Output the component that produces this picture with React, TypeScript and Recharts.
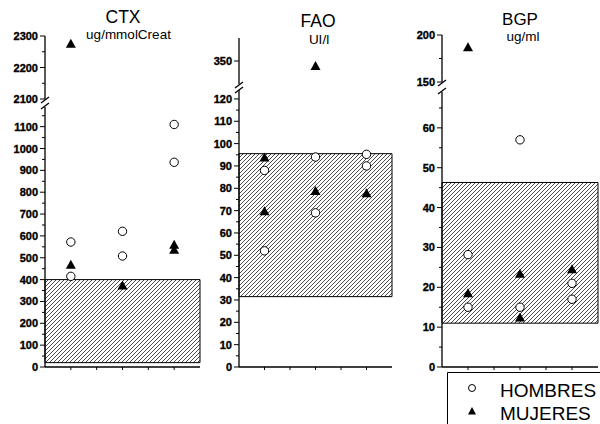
import React from 'react'
import { ScatterChart, Scatter, XAxis, YAxis, ReferenceArea } from 'recharts'

// ─── Datos: [grupo, valor] por sujeto ───
const ctxHombres: [number, number][] = [[1, 572], [1, 415], [2, 621], [2, 508], [3, 937], [3, 1110]]
const ctxMujeres: [number, number][] = [[1, 466], [1, 2274], [2, 371], [3, 557], [3, 534]]
const faoHombres: [number, number][] = [[1, 88], [1, 52], [2, 94], [2, 69], [3, 95.2], [3, 90]]
const faoMujeres: [number, number][] = [[1, 93.6], [1, 69.5], [2, 78.6], [2, 344], [3, 77.6]]
const bgpHombres: [number, number][] = [[1, 28.2], [1, 15], [2, 57], [2, 15], [3, 21], [3, 17]]
const bgpMujeres: [number, number][] = [[1, 18.4], [1, 186.5], [2, 23.3], [2, 12.3], [3, 24.4]]

// rango normal (zona rayada)
const ctxRango = [20, 400]
const faoRango = [31.5, 95.5]
const bgpRango = [11, 46.3]

// ticks con etiqueta y ticks menores de cada tramo
const ctxEtiqSup = [2100, 2200, 2300]
const ctxMenorSup = [2150, 2250]
const ctxEtiqInf = [0, 100, 200, 300, 400, 500, 600, 700, 800, 900, 1000, 1100]
const ctxMenorInf = [50, 150, 250, 350, 450, 550, 650, 750, 850, 950, 1050, 1150]
const faoEtiqSup = [350]
const faoMenorSup: number[] = []
const faoEtiqInf = [0, 10, 20, 30, 40, 50, 60, 70, 80, 90, 100, 110, 120]
const faoMenorInf = [5, 15, 25, 35, 45, 55, 65, 75, 85, 95, 105, 115]
const bgpEtiqSup = [150, 200]
const bgpMenorSup = [175]
const bgpEtiqInf = [0, 10, 20, 30, 40, 50, 60]
const bgpMenorInf = [5, 15, 25, 35, 45, 55, 65]

const FONT = 'Liberation Sans, Arial, sans-serif'
const PAD_L = 44
const PAD_T = 8
const PAD_R = 8
const PAD_B = 8
const X_AXIS_H = 8
const X_TICKS = [1, 1.5, 2, 2.5, 3]

const Circulo = (p: any) => (
  <circle cx={p.cx} cy={p.cy} r={4.2} fill="#fff" stroke="#000" strokeWidth={1} />
)
const Triangulo = (p: any) => (
  <path d={`M${p.cx},${p.cy - 5.5} L${p.cx + 5},${p.cy + 3.5} L${p.cx - 5},${p.cy + 3.5} Z`} fill="#000" />
)

type SegmentProps = {
  id: string
  left: number
  top: number
  width: number
  height: number
  domain: [number, number]
  etiquetas: number[]
  menores: number[]
  hombres: [number, number][]
  mujeres: [number, number][]
  rango?: number[]
  xAxis?: boolean
}

// un tramo del eje Y partido (superior o inferior)
function Segment({ id, left, top, width, height, domain, etiquetas, menores, hombres, mujeres, rango, xAxis }: SegmentProps) {
  const W = PAD_L + width + PAD_R
  const H = PAD_T + height + (xAxis ? X_AXIS_H : PAD_B)
  const inRange = (pts: [number, number][]) =>
    pts.filter(([, v]) => v >= domain[0] && v <= domain[1]).map(([x, y]) => ({ x, y }))
  const ticks = [...etiquetas, ...menores].sort((a, b) => a - b)
  const axisY = PAD_T + height

  const yTick = (props: any) => {
    const { y, payload } = props
    const major = etiquetas.includes(payload.value)
    return (
      <g>
        <line x1={PAD_L - (major ? 5 : 3)} x2={PAD_L} y1={y} y2={y} stroke="#000" strokeWidth={1} />
        {major && (
          <text
            x={PAD_L - 7}
            y={y}
            dy={4}
            textAnchor="end"
            fill="#000"
            stroke="#000"
            strokeWidth={0.35}
            fontFamily={FONT}
            fontSize={11}
            fontWeight="bold"
            style={{ fontWeight: 'bold' }}
          >
            {payload.value}
          </text>
        )}
      </g>
    )
  }
  const xTick = (props: any) => (
    <line x1={props.x} x2={props.x} y1={axisY} y2={axisY + 3} stroke="#000" strokeWidth={1} />
  )

  return (
    <div style={{ position: 'absolute', left: left - PAD_L, top: top - PAD_T, width: W, height: H }}>
      <ScatterChart width={W} height={H} margin={{ top: PAD_T, right: PAD_R, left: 0, bottom: xAxis ? 0 : PAD_B }}>
        <defs>
          <pattern id={id} patternUnits="userSpaceOnUse" width={4} height={4}>
            <path d="M-1,1 l2,-2 M0,4 l4,-4 M3,5 l2,-2" stroke="#000" strokeWidth={0.7} />
          </pattern>
        </defs>
        <XAxis
          type="number"
          dataKey="x"
          domain={[0.5, 3.5]}
          ticks={X_TICKS}
          hide={!xAxis}
          height={X_AXIS_H}
          axisLine={{ stroke: '#000', strokeWidth: 1.3 }}
          tickLine={false}
          tick={xTick}
        />
        <YAxis
          type="number"
          dataKey="y"
          domain={domain}
          ticks={ticks}
          width={PAD_L}
          interval={0}
          axisLine={{ stroke: '#000', strokeWidth: 1.3 }}
          tickLine={false}
          tick={yTick}
        />
        {rango && (
          <ReferenceArea
            x1={0.5}
            x2={3.5}
            y1={rango[0]}
            y2={rango[1]}
            fill={`url(#${id})`}
            fillOpacity={1}
            stroke="#000"
            strokeWidth={1}
          />
        )}
        <Scatter data={inRange(mujeres)} shape={Triangulo} isAnimationActive={false} />
        <Scatter data={inRange(hombres)} shape={Circulo} isAnimationActive={false} />
      </ScatterChart>
    </div>
  )
}

// marcas "//" del eje partido
function Corte({ x, y }: { x: number; y: number }) {
  return <line x1={x - 4} y1={y + 3} x2={x + 4} y2={y - 3} stroke="#000" strokeWidth={1.3} />
}

export default function App() {
  return (
    <div style={{ position: 'absolute', left: 0, top: 0, width: 600, height: 424, background: '#fff', overflow: 'hidden' }}>
      {/* CTX */}
      <Segment id="h-ctx-s" left={45} top={36} width={155} height={63} domain={[2100, 2300]}
        etiquetas={ctxEtiqSup} menores={ctxMenorSup} hombres={ctxHombres} mujeres={ctxMujeres} />
      <Segment id="h-ctx-i" left={45} top={107} width={155} height={260} domain={[0, 1190]}
        etiquetas={ctxEtiqInf} menores={ctxMenorInf} hombres={ctxHombres} mujeres={ctxMujeres}
        rango={ctxRango} xAxis />

      {/* FAO */}
      <Segment id="h-fao-s" left={239} top={38} width={153} height={46} domain={[325, 375]}
        etiquetas={faoEtiqSup} menores={faoMenorSup} hombres={faoHombres} mujeres={faoMujeres} />
      <Segment id="h-fao-i" left={239} top={90} width={153} height={277} domain={[0, 124]}
        etiquetas={faoEtiqInf} menores={faoMenorInf} hombres={faoHombres} mujeres={faoMujeres}
        rango={faoRango} xAxis />

      {/* BGP */}
      <Segment id="h-bgp-s" left={442} top={35} width={156} height={47} domain={[150, 200]}
        etiquetas={bgpEtiqSup} menores={bgpMenorSup} hombres={bgpHombres} mujeres={bgpMujeres} />
      <Segment id="h-bgp-i" left={442} top={92} width={156} height={275} domain={[0, 69]}
        etiquetas={bgpEtiqInf} menores={bgpMenorInf} hombres={bgpHombres} mujeres={bgpMujeres}
        rango={bgpRango} xAxis />

      <svg width={600} height={424} fontFamily={FONT} style={{ position: 'absolute', left: 0, top: 0, pointerEvents: 'none' }}>
        <Corte x={45} y={100} />
        <Corte x={45} y={106} />
        <Corte x={239} y={85} />
        <Corte x={239} y={90} />
        <Corte x={442} y={83} />
        <Corte x={442} y={91} />

        <text x={123} y={22.5} textAnchor="middle" fontSize={17.5}>CTX</text>
        <text x={128.5} y={38.5} textAnchor="middle" fontSize={13.5}>ug/mmolCreat</text>
        <text x={318} y={27} textAnchor="middle" fontSize={17.5}>FAO</text>
        <text x={319} y={43.5} textAnchor="middle" fontSize={13.5}>UI/l</text>
        <text x={520} y={24.5} textAnchor="middle" fontSize={17}>BGP</text>
        <text x={523} y={40.5} textAnchor="middle" fontSize={13.5}>ug/ml</text>

        {/* leyenda */}
        <path d="M447.5,424 L447.5,372.5 L600,372.5" fill="none" stroke="#000" strokeWidth={1} />
        <circle cx={472} cy={388} r={3.5} fill="#fff" stroke="#000" strokeWidth={1} />
        <path d="M472,407 L476,414.5 L468,414.5 Z" fill="#000" />
        <text x={500} y={397} fontSize={19}>HOMBRES</text>
        <text x={500} y={420} fontSize={19}>MUJERES</text>
      </svg>
    </div>
  )
}
